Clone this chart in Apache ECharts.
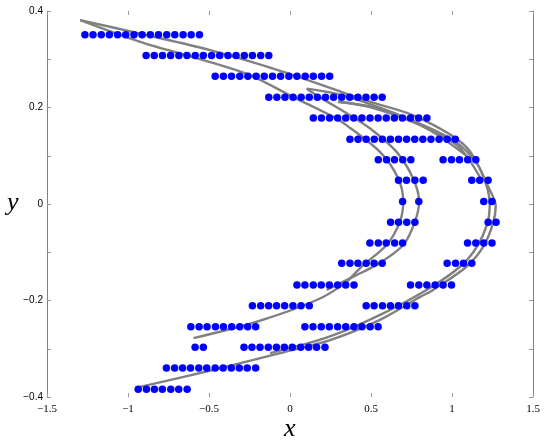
<!DOCTYPE html>
<html>
<head>
<meta charset="utf-8">
<title>Hénon attractor, quantized</title>
<script src="https://cdn.jsdelivr.net/npm/echarts@6/dist/echarts.min.js"></script>
<style>
  html, body { margin: 0; padding: 0; background: #fff; }
  #chart { width: 554px; height: 448px; }
</style>
</head>
<body>
<div id="chart"></div>
<script>
// blue dots: one y level per row, x positions
const dotRowY = [0.351, 0.308, 0.265, 0.221, 0.178, 0.134, 0.0915, 0.049, 0.005,
  -0.038, -0.081, -0.123, -0.168, -0.211, -0.2545, -0.297, -0.340, -0.384]
const dotRowX = [
  [-1.266, -1.216, -1.165, -1.115, -1.064, -1.014, -0.963, -0.913, -0.862, -0.812, -0.761, -0.711, -0.660, -0.610, -0.559],
  [-0.888, -0.838, -0.787, -0.737, -0.686, -0.636, -0.585, -0.535, -0.484, -0.434, -0.383, -0.333, -0.282, -0.232, -0.181, -0.131],
  [-0.462, -0.411, -0.361, -0.310, -0.260, -0.209, -0.159, -0.108, -0.058, -0.007, 0.043, 0.094, 0.144, 0.195, 0.245],
  [-0.131, -0.081, -0.031, 0.019, 0.069, 0.119, 0.169, 0.219, 0.269, 0.319, 0.369, 0.419, 0.469, 0.519, 0.569],
  [0.144, 0.194, 0.244, 0.294, 0.344, 0.394, 0.444, 0.494, 0.544, 0.594, 0.644, 0.694, 0.744, 0.794, 0.845],
  [0.370, 0.420, 0.470, 0.520, 0.570, 0.620, 0.670, 0.720, 0.770, 0.820, 0.870, 0.920, 0.970, 1.020],
  [0.545, 0.596, 0.645, 0.696, 0.746, 0.945, 0.997, 1.046, 1.097, 1.147],
  [0.670, 0.719, 0.771, 0.822, 1.122, 1.171, 1.223],
  [0.695, 0.795, 1.196, 1.247],
  [0.621, 0.670, 0.721, 0.771, 1.223, 1.272],
  [0.493, 0.545, 0.594, 0.646, 0.695, 1.096, 1.147, 1.196, 1.247],
  [0.319, 0.370, 0.419, 0.470, 0.519, 0.569, 0.970, 1.022, 1.071, 1.122],
  [0.043, 0.092, 0.144, 0.193, 0.243, 0.294, 0.344, 0.395, 0.744, 0.795, 0.845, 0.896, 0.945, 0.997],
  [-0.232, -0.181, -0.132, -0.083, -0.033, 0.018, 0.068, 0.119, 0.470, 0.519, 0.571, 0.620, 0.669, 0.721, 0.771],
  [-0.612, -0.561, -0.512, -0.460, -0.411, -0.360, -0.310, -0.261, -0.212, 0.092, 0.142, 0.193, 0.243, 0.294, 0.344, 0.395, 0.444, 0.495, 0.544],
  [-0.586, -0.535, -0.284, -0.235, -0.185, -0.134, -0.084, -0.035, 0.014, 0.066, 0.115, 0.164, 0.216],
  [-0.763, -0.712, -0.663, -0.614, -0.563, -0.514, -0.462, -0.413, -0.362, -0.313, -0.264, -0.212],
  [-0.937, -0.886, -0.837, -0.788, -0.736, -0.687, -0.635]
]

// gray strands of the attractor
const curveA1 = [[-0.596, -0.278], [-0.205, -0.244], [0.165, -0.199], [0.339, -0.164], [0.444, -0.129],
  [0.596, -0.085], [0.678, -0.037], [0.699, 0.005], [0.668, 0.053], [0.555, 0.108], [0.350, 0.163],
  [0.265, 0.181], [0.018, 0.222], [-0.247, 0.267], [-0.493, 0.294], [-0.925, 0.336], [-1.295, 0.381]]
const curveA2 = [[-1.295, 0.381], [-0.925, 0.353], [-0.493, 0.319], [-0.041, 0.274], [0.493, 0.212],
  [0.781, 0.181], [1.089, 0.118], [1.233, 0.029], [1.270, -0.004], [1.253, -0.040], [1.192, -0.089],
  [1.089, -0.130], [0.883, -0.178], [0.801, -0.193], [0.555, -0.240], [0.247, -0.282], [-0.062, -0.309],
  [-0.475, -0.344], [-0.925, -0.379]]
const curveB1 = [[0.226, -0.178], [0.401, -0.149], [0.555, -0.122], [0.699, -0.085], [0.771, -0.037],
  [0.797, 0.005], [0.760, 0.053], [0.658, 0.108], [0.493, 0.157], [0.350, 0.188], [0.185, 0.221], [0.103, 0.239]]
const curveB2 = [[0.103, 0.239], [0.350, 0.223], [0.740, 0.175], [1.017, 0.130], [1.159, 0.081], [1.221, 0.029],
  [1.233, -0.004], [1.215, -0.044], [1.153, -0.089], [1.060, -0.127], [0.863, -0.174], [0.543, -0.232],
  [0.234, -0.276], [-0.123, -0.309]]
const curveC1 = [[1.110, 0.095], [0.863, 0.153], [0.586, 0.195], [0.296, 0.212]]
const curveC2 = [[0.296, 0.212], [0.493, 0.201], [0.771, 0.168], [1.036, 0.120], [1.184, 0.049]]

const strands = [curveA1, curveA2, curveB1, curveB2, curveC1, curveC2]

const dotData = []
dotRowY.forEach((y, i) => {
  dotRowX[i].forEach(x => dotData.push([x, y]))
})

const minus = s => String(s).replace('-', '\u2212')

const tickStyle = { inside: true, length: 4, lineStyle: { color: '#999', width: 1 } }
const frameLine = { show: true, onZero: false, lineStyle: { color: '#808080', width: 1 } }

let option = {
  animation: false,
  grid: { left: 47, right: 21, top: 11, bottom: 51 },
  xAxis: [{
    type: 'value', min: -1.5, max: 1.5, interval: 0.5, position: 'bottom',
    axisLine: { show: false, onZero: false },
    axisTick: tickStyle,
    splitLine: { show: false },
    axisLabel: {
      margin: 7, color: '#000', fontFamily: 'Liberation Serif', fontSize: 11,
      formatter: v => minus(v)
    }
  }, {
    type: 'value', min: -1.5, max: 1.5, interval: 0.5, position: 'top',
    axisLine: { show: false, onZero: false },
    axisTick: tickStyle,
    splitLine: { show: false },
    axisLabel: { show: false }
  }],
  yAxis: [{
    type: 'value', min: -0.4, max: 0.4, interval: 0.1, position: 'left',
    axisLine: frameLine,
    axisTick: tickStyle,
    splitLine: { show: false },
    axisLabel: {
      margin: 4, color: '#000', fontFamily: 'Liberation Sans', fontSize: 10,
      formatter: v => {
        const k = Math.round(v * 10)
        return k % 2 !== 0 ? '' : minus(k / 10)
      }
    }
  }, {
    type: 'value', min: -0.4, max: 0.4, interval: 0.1, position: 'right',
    axisLine: frameLine,
    axisTick: tickStyle,
    splitLine: { show: false },
    axisLabel: { show: false }
  }],
  graphic: [
    { type: 'text', left: 284, top: 416, style: { text: 'x', font: 'italic 26px "Liberation Serif"', fill: '#000' } },
    { type: 'text', left: 7, top: 190, style: { text: 'y', font: 'italic 26px "Liberation Serif"', fill: '#000' } }
  ],
  series: strands.map(pts => ({
    type: 'line',
    data: pts,
    smooth: 0.3,
    showSymbol: false,
    lineStyle: { color: '#808080', width: 2.4 },
    z: 2
  })).concat([{
    type: 'scatter',
    data: dotData,
    symbol: 'circle',
    symbolSize: 7.5,
    itemStyle: { color: '#0000ff', opacity: 1 },
    z: 3
  }])
}

echarts.init(document.getElementById('chart')).setOption(option)
</script>
</body>
</html>
